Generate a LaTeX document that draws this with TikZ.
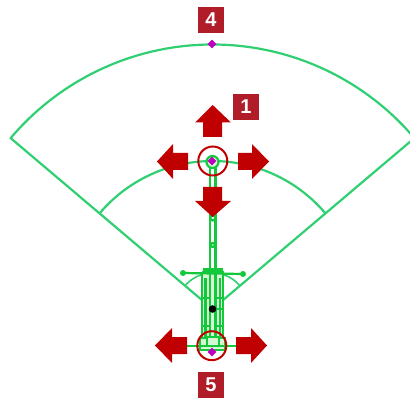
\documentclass[tikz,border=0pt]{standalone}
\usepackage{fontspec}
\setmainfont{Liberation Sans}
\usetikzlibrary{shapes.geometric}
\definecolor{sect}{HTML}{2FCF72}
\definecolor{mach}{HTML}{14C83C}
\definecolor{pale}{HTML}{D4F7D4}
\definecolor{arrowred}{HTML}{C00000}
\definecolor{tagred}{HTML}{B01C28}
\definecolor{handle}{HTML}{C000C0}
\tikzset{
  x=1pt,y=-1pt,
  sectorline/.style={draw=sect,line width=2.2pt,line join=round},
  machline/.style={draw=mach,line width=2.2pt},
  machthin/.style={draw=mach,line width=2.2pt},
  bigarrow/.style={fill=arrowred,draw=none},
  tag/.style={fill=tagred,text=white,font=\bfseries\fontsize{20}{20}\selectfont,minimum width=26pt,minimum height=26pt,inner sep=0pt},
  ring/.style={draw=arrowred,line width=2pt,fill=none,circle,minimum size=29pt,inner sep=0pt},
  grip/.style={fill=handle,draw=none,diamond,minimum size=9pt,inner sep=0pt},
}
\begin{document}
\begin{tikzpicture}
\useasboundingbox (0,0) rectangle (410,401);
\clip (0,0) rectangle (410,401);
\coordinate (c) at (212.5,309);
% sector
\draw[sectorline] (c) ++(-40.25:264.5) coordinate (R)
  arc[start angle=-40.25,end angle=-139.75,radius=264.5] coordinate (L) -- (c) -- cycle;
\draw[sectorline] (c) ++(-40.25:148) arc[start angle=-40.25,end angle=-139.75,radius=148];
\draw[sectorline,line width=1.6pt] (c) ++(-40.25:36) arc[start angle=-40.25,end angle=-139.75,radius=36];
% machine
\fill[pale] (202,274) rectangle (223,338);
\draw[machline,line width=2.6pt] (210,166) -- (210,272) (215.5,166) -- (215.5,272);
\draw[machline] (212.8,218) circle (2.5);
\draw[machline] (212.8,245) circle (2);
\draw[machthin] (183,273) -- (243,274);
\draw[machline,line width=3.4pt] (203,270) -- (223,270);
\draw[machline,line width=3pt] (202,272.5) -- (224,272.5);
\draw[machline] (202,274) -- (202,338) (223,274) -- (223,338);
\draw[machline] (205.5,278) -- (205.5,338) (220,278) -- (220,338);
\draw[machline] (210,272) -- (210,340) (215.5,272) -- (215.5,340);
\draw[machline] (202,298) -- (210,298) (215.5,298) -- (223,298);
\draw[machline] (215.5,309) -- (223,309);
\draw[machline] (202,326) -- (210,326) (215.5,326) -- (223,326);
\draw[machline,fill=pale] (200,338) rectangle (225,350);
\draw[machline,fill=pale] (207,337) rectangle (219,346);
\draw[machline] (170,346) -- (255,346);
\fill[mach] (183,273) circle (3);
\fill[mach] (243,274) circle (3);
\draw[machline,fill=pale] (212.5,162) circle (6);
\fill[black] (212.5,309) circle (3.8);
% rings
\node[ring] (r1) at (212.8,161) {};
\node[ring] (r5) at (211.8,345.7) {};
% handles
\node[grip] (h1) at (212,161) {};
\node[grip] (h4) at (212,44) {};
\node[grip] (h5) at (212,352) {};
% arrows
\fill[bigarrow] (212.7,105) -- (231,122.5) -- (222,122.5) -- (222,137) -- (203,137) -- (203,122.5) -- (195,122.5) -- cycle;
\fill[bigarrow] (212.7,217) -- (231,201) -- (222,201) -- (222,187) -- (203,187) -- (203,201) -- (195,201) -- cycle;
\fill[bigarrow] (157,161.5) -- (173,144) -- (173,153) -- (188,153) -- (188,170) -- (173,170) -- (173,179) -- cycle;
\fill[bigarrow] (269,161.5) -- (252,144) -- (252,153) -- (238,153) -- (238,170) -- (252,170) -- (252,179) -- cycle;
\fill[bigarrow] (155,345.5) -- (172,328) -- (172,337) -- (187,337) -- (187,354) -- (172,354) -- (172,363) -- cycle;
\fill[bigarrow] (267,345.5) -- (251,328) -- (251,337) -- (236,337) -- (236,354) -- (251,354) -- (251,363) -- cycle;
% tags
\node[tag] (t1) at (246,107) {1};
\node[tag] (t4) at (211,20) {4};
\node[tag] (t5) at (211,385) {5};
\end{tikzpicture}
\end{document}
